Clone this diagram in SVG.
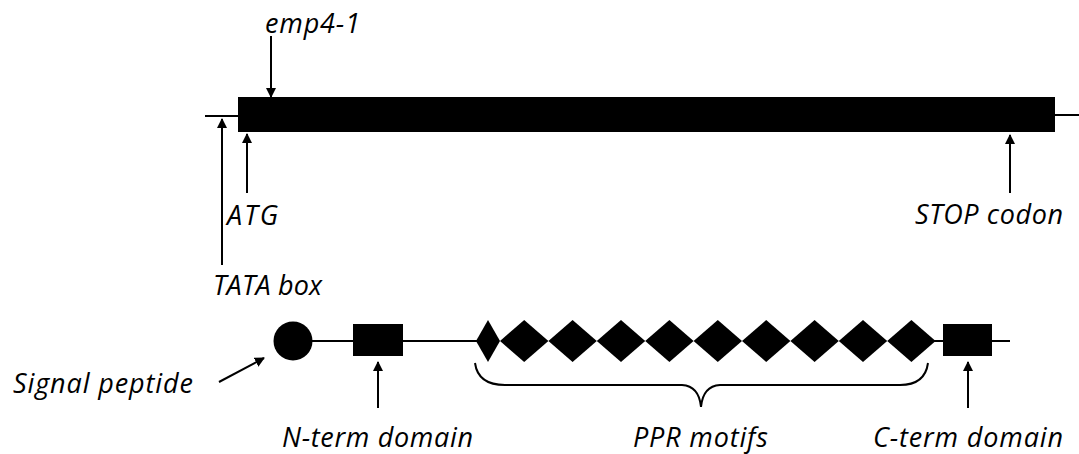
<svg xmlns="http://www.w3.org/2000/svg" width="1079" height="454" viewBox="0 0 1079 454">
  <style>
    .lbl { font-family: "Open Sans", "Noto Sans", "Liberation Sans", sans-serif; font-style: italic; font-size: 27px; fill: #000; }
    .ln { stroke: #000; stroke-width: 2; fill: none; }
    .arr { stroke: #000; stroke-width: 2; fill: none; marker-end: url(#head); }
    .solid { fill: #000; stroke: none; }
  </style>
  <defs>
    <marker id="head" viewBox="0 0 10 10" refX="9" refY="5" markerWidth="5" markerHeight="5" orient="auto" markerUnits="strokeWidth">
      <path d="M0,0 L10,5 L0,10 z" fill="#000"/>
    </marker>
  </defs>

  <!-- Gene model: flanking lines and coding region -->
  <g id="gene">
    <line class="ln" x1="205" y1="116" x2="239" y2="116"/>
    <line class="ln" x1="1054" y1="115" x2="1079" y2="115"/>
    <rect class="solid" x="238" y="97" width="817" height="35"/>
  </g>

  <!-- Protein model -->
  <g id="protein-backbone">
    <line class="ln" x1="310" y1="341" x2="480" y2="341"/>
    <line class="ln" x1="930" y1="341" x2="1010" y2="341"/>
  </g>
  <g id="signal-peptide-shape">
    <circle class="solid" cx="293" cy="341" r="19.5"/>
  </g>
  <g id="n-term-shape">
    <rect class="solid" x="353" y="324" width="50" height="32"/>
  </g>
  <g id="ppr-shapes">
    <polygon class="solid" points="476,341 488,320 500,341 488,362"/>
    <polygon class="solid" points="500,341 524.2,320 548.4,341 524.2,362"/>
    <polygon class="solid" points="548.4,341 572.6,320 596.8,341 572.6,362"/>
    <polygon class="solid" points="596.8,341 621,320 645.2,341 621,362"/>
    <polygon class="solid" points="645.2,341 669.4,320 693.6,341 669.4,362"/>
    <polygon class="solid" points="693.6,341 717.8,320 742,341 717.8,362"/>
    <polygon class="solid" points="742,341 766.2,320 790.4,341 766.2,362"/>
    <polygon class="solid" points="790.4,341 814.6,320 838.8,341 814.6,362"/>
    <polygon class="solid" points="838.8,341 863,320 887.2,341 863,362"/>
    <polygon class="solid" points="887.2,341 911.4,320 935.6,341 911.4,362"/>
  </g>
  <g id="c-term-shape">
    <rect class="solid" x="943" y="324" width="49" height="32"/>
  </g>
  <g id="ppr-brace">
    <path class="ln" stroke-width="2.5" d="M475,363 Q478,385 505,385 H682 Q699,386 701,407 Q703,386 720,385 H900 Q925,385 928,363"/>
  </g>

  <!-- Pointer arrows -->
  <g id="connectors">
    <line class="arr" x1="271" y1="36" x2="271" y2="97"/>
    <line class="arr" x1="222" y1="265" x2="222" y2="119"/>
    <line class="arr" x1="247" y1="193" x2="247" y2="134"/>
    <line class="arr" x1="1010" y1="193" x2="1010" y2="135"/>
    <line class="arr" x1="219" y1="382" x2="264" y2="358"/>
    <line class="arr" x1="378" y1="408" x2="378" y2="362"/>
    <line class="arr" x1="968" y1="408" x2="968" y2="362"/>
  </g>

  <!-- Labels -->
  <g id="label-emp4-1"><text class="lbl" x="265" y="33" textLength="95">emp4-1</text></g>
  <g id="label-atg"><text class="lbl" x="227" y="225" textLength="51">ATG</text></g>
  <g id="label-stop"><text class="lbl" x="915" y="224" textLength="148">STOP codon</text></g>
  <g id="label-tata"><text class="lbl" x="213" y="295" textLength="109">TATA box</text></g>
  <g id="label-signal"><text class="lbl" x="13" y="393" textLength="180">Signal peptide</text></g>
  <g id="label-nterm"><text class="lbl" x="282" y="447" textLength="191">N-term domain</text></g>
  <g id="label-ppr"><text class="lbl" x="633" y="447" textLength="135">PPR motifs</text></g>
  <g id="label-cterm"><text class="lbl" x="873" y="447" textLength="190">C-term domain</text></g>
</svg>
